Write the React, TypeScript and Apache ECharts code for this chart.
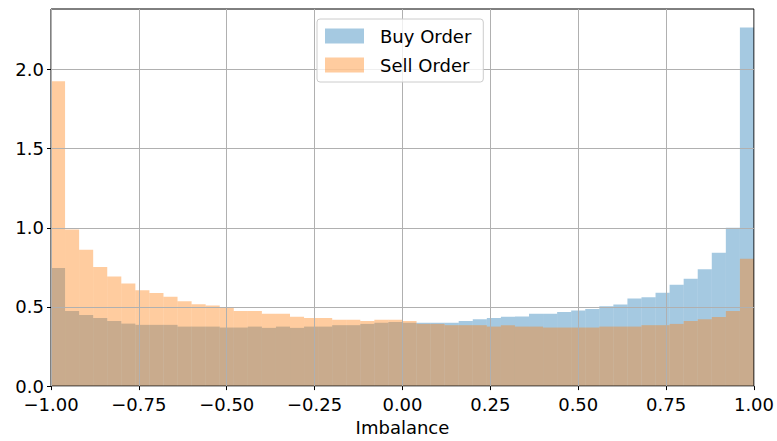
import React, { useEffect, useRef } from "react";
import * as echarts from "echarts";

const BIN_START = -1;
const BIN_WIDTH = 0.04;

const buyOrder: number[] = [
  0.746, 0.474, 0.449, 0.43, 0.412, 0.395, 0.387, 0.387, 0.387, 0.376,
  0.376, 0.376, 0.37, 0.37, 0.376, 0.368, 0.376, 0.368, 0.376, 0.376,
  0.385, 0.385, 0.393, 0.401, 0.405, 0.401, 0.401, 0.401, 0.401, 0.412,
  0.422, 0.43, 0.439, 0.44, 0.457, 0.457, 0.468, 0.478, 0.488, 0.505,
  0.516, 0.553, 0.561, 0.59, 0.64, 0.678, 0.738, 0.842, 1.0, 2.266,
];

const sellOrder: number[] = [
  1.926, 0.99, 0.861, 0.753, 0.692, 0.649, 0.605, 0.588, 0.564, 0.536,
  0.518, 0.51, 0.497, 0.474, 0.474, 0.457, 0.457, 0.439, 0.43, 0.43,
  0.42, 0.42, 0.412, 0.42, 0.42, 0.412, 0.393, 0.393, 0.385, 0.385,
  0.385, 0.376, 0.385, 0.376, 0.376, 0.37, 0.37, 0.37, 0.37, 0.376,
  0.376, 0.376, 0.385, 0.385, 0.393, 0.412, 0.422, 0.437, 0.474, 0.805,
];

const xTicks: number[] = [-1, -0.75, -0.5, -0.25, 0, 0.25, 0.5, 0.75, 1];
const yTicks: number[] = [0, 0.5, 1.0, 1.5, 2.0];

const FONT = "DejaVu Sans";

function toBins(values: number[]) {
  return values.map((v, i) => [
    BIN_START + i * BIN_WIDTH,
    BIN_START + (i + 1) * BIN_WIDTH,
    v,
  ]);
}

function renderBar(params: any, api: any) {
  const x0 = api.value(0);
  const x1 = api.value(1);
  const y = api.value(2);
  const p0 = api.coord([x0, y]);
  const p1 = api.coord([x1, 0]);
  return {
    type: "rect",
    shape: { x: p0[0], y: p0[1], width: p1[0] - p0[0], height: p1[1] - p0[1] },
    style: { fill: api.visual("color") },
  };
}

export default function App() {
  const ref = useRef<HTMLDivElement>(null);
  useEffect(() => {
    if (!ref.current) return;
    const chart = echarts.init(ref.current, undefined, { renderer: "svg" });
    const minus = (v: number, d: number) =>
      (v < 0 ? "\u2212" : "") + Math.abs(v).toFixed(d);
    chart.setOption({
      animation: false,
      backgroundColor: "#ffffff",
      textStyle: { fontFamily: FONT },
      grid: {
        left: 51,
        top: 9,
        width: 703,
        height: 382,
        show: true,
        borderColor: "#000",
        borderWidth: 1,
        backgroundColor: "transparent",
        z: 3,
      },
      legend: {
        orient: "vertical",
        left: 317,
        top: 19,
        icon: "rect",
        itemWidth: 39,
        itemHeight: 15,
        itemGap: 11,
        padding: [8, 12, 8, 8],
        borderColor: "#cccccc",
        borderWidth: 1,
        borderRadius: 3,
        backgroundColor: "rgba(255,255,255,0.8)",
        textStyle: {
          fontFamily: FONT,
          fontSize: 18,
          color: "#000",
          padding: [0, 0, 0, 11],
        },
        data: ["Buy Order", "Sell Order"],
      },
      xAxis: {
        type: "value",
        min: -1,
        max: 1,
        interval: 0.25,
        name: "Imbalance",
        nameLocation: "middle",
        nameGap: 29,
        nameTextStyle: { fontFamily: FONT, fontSize: 18, color: "#000" },
        axisLine: { show: false, onZero: false },
        axisTick: {
          show: true,
          inside: false,
          length: 4,
          lineStyle: { color: "#000", width: 1 },
        },
        axisLabel: {
          margin: 9,
          fontFamily: FONT,
          fontSize: 18,
          color: "#000",
          formatter: (v: number) => minus(v, 2),
          customValues: xTicks,
        },
        splitLine: { show: true, lineStyle: { color: "#b0b0b0", width: 1 } },
        z: 3,
      },
      yAxis: {
        type: "value",
        min: 0,
        max: 2.383,
        interval: 0.5,
        axisLine: { show: false, onZero: false },
        axisTick: {
          show: true,
          inside: false,
          length: 4,
          lineStyle: { color: "#000", width: 1 },
          customValues: yTicks,
        },
        axisLabel: {
          margin: 7,
          fontFamily: FONT,
          fontSize: 18,
          color: "#000",
          formatter: (v: number) => minus(v, 1),
          customValues: yTicks,
        },
        splitLine: { show: true, lineStyle: { color: "#b0b0b0", width: 1 } },
        z: 3,
      },
      series: [
        {
          name: "Buy Order",
          type: "custom",
          renderItem: renderBar,
          itemStyle: { color: "rgba(31,119,180,0.4)" },
          encode: { x: [0, 1], y: 2 },
          data: toBins(buyOrder),
          z: 1,
        },
        {
          name: "Sell Order",
          type: "custom",
          renderItem: renderBar,
          itemStyle: { color: "rgba(255,127,14,0.4)" },
          encode: { x: [0, 1], y: 2 },
          data: toBins(sellOrder),
          z: 1,
        },
      ],
    });
    return () => chart.dispose();
  }, []);
  return (
    <div
      ref={ref}
      style={{ position: "fixed", left: 0, top: 0, width: 777, height: 441 }}
    />
  );
}
